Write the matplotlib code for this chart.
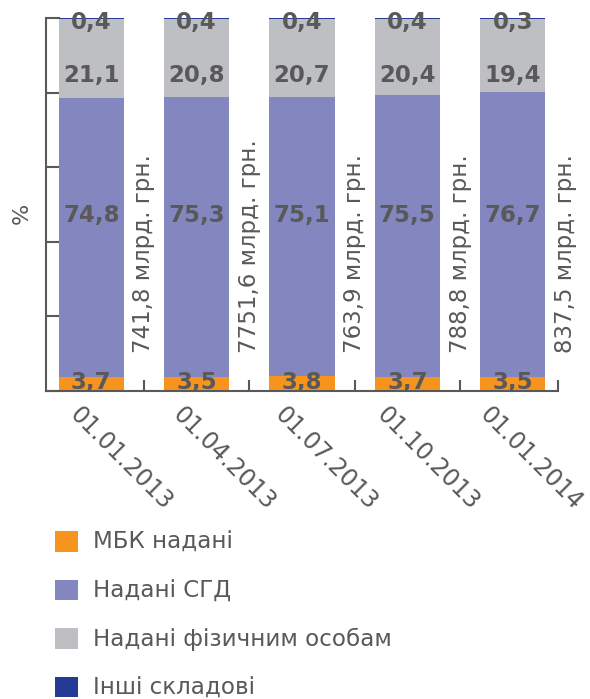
import numpy as np
import matplotlib
matplotlib.use("Agg")
import matplotlib.pyplot as plt
from matplotlib.patches import Patch
from matplotlib.transforms import ScaledTranslation

# ---- data ----
dates = ["01.01.2013", "01.04.2013", "01.07.2013", "01.10.2013", "01.01.2014"]
mbk = [3.7, 3.5, 3.8, 3.7, 3.5]
sgd = [74.8, 75.3, 75.1, 75.5, 76.7]
fiz = [21.1, 20.8, 20.7, 20.4, 19.4]
other = [0.4, 0.4, 0.4, 0.4, 0.3]
totals = ["741,8 млрд. грн.", "7751,6 млрд. грн.", "763,9 млрд. грн.",
          "788,8 млрд. грн.", "837,5 млрд. грн."]
series_names = ["МБК надані", "Надані СГД", "Надані фізичним особам", "Інші складові"]

# ---- style ----
colors = ["#F7941E", "#8386BF", "#BEBFC3", "#253A96"]
txt = "#595959"
label_base = [0.3, 45.3, 82.9, 97.0]   # baseline rows for value labels

plt.rcParams['font.family'] = ['DejaVu Sans']

fig = plt.figure(figsize=(5.9, 6.99), dpi=100)
ax = fig.add_axes([46/590, 1-390.5/699, (558-46)/590, (390.5-18)/699])

x = np.arange(len(dates))
series = [mbk, sgd, fiz, other]
bottom = np.zeros(len(dates))
for vals, c in zip(series, colors):
    ax.bar(x, vals, width=0.62, bottom=bottom, color=c, linewidth=0, zorder=2)
    bottom += np.array(vals)

def fmt(v):
    return f"{v:.1f}".replace(".", ",")

for si, vals in enumerate(series):
    for i, v in enumerate(vals):
        ax.text(x[i], label_base[si], fmt(v), ha="center", va="baseline",
                fontsize=16.5, fontweight="bold", color=txt, zorder=4)

for i, t in enumerate(totals):
    ax.text(x[i] + 0.5, 10, t, rotation=90, ha="center", va="bottom",
            fontsize=16.5, color=txt, clip_on=False)

xmin, xmax = -0.43, 4.43
ax.set_xlim(xmin, xmax)
ax.set_ylim(0, 100)
ax.set_yticks(np.arange(0, 101, 20))
ax.set_yticklabels([])
ax.set_xticks(list(x[:-1] + 0.5) + [xmax])
ax.set_xticklabels([])
ax.tick_params(axis="both", direction="in", length=8, width=1.5, color=txt)
ax.tick_params(axis="y", length=10)
for s in ["top", "right"]:
    ax.spines[s].set_visible(False)
for s in ["left", "bottom"]:
    ax.spines[s].set_color(txt)
    ax.spines[s].set_linewidth(1.5)
    ax.spines[s].set_zorder(3)

# category labels sit at evenly spaced category centres of the axis
off = ScaledTranslation(-15/100, -12.5/100, fig.dpi_scale_trans)
n = len(dates)
for i, d in enumerate(dates):
    ax.text((2*i + 1) / (2*n), 0, d, transform=ax.transAxes + off,
            rotation=-45, rotation_mode="anchor", ha="left", va="top",
            fontsize=17, color=txt, clip_on=False)

fig.text(22/590, 1-213/699, "%", rotation=90, ha="center", va="center",
         fontsize=16, color=txt)

handles = [Patch(facecolor=c, edgecolor="none") for c in colors]
fig.legend(handles, series_names, loc="upper left",
           bbox_to_anchor=(55/590, 1-531/699), frameon=False,
           fontsize=16.6, labelcolor=txt, handlelength=1.0, handleheight=1.0,
           handletextpad=0.66, labelspacing=1.1, borderpad=0, borderaxespad=0)

fig.savefig("out.png", dpi=100)
